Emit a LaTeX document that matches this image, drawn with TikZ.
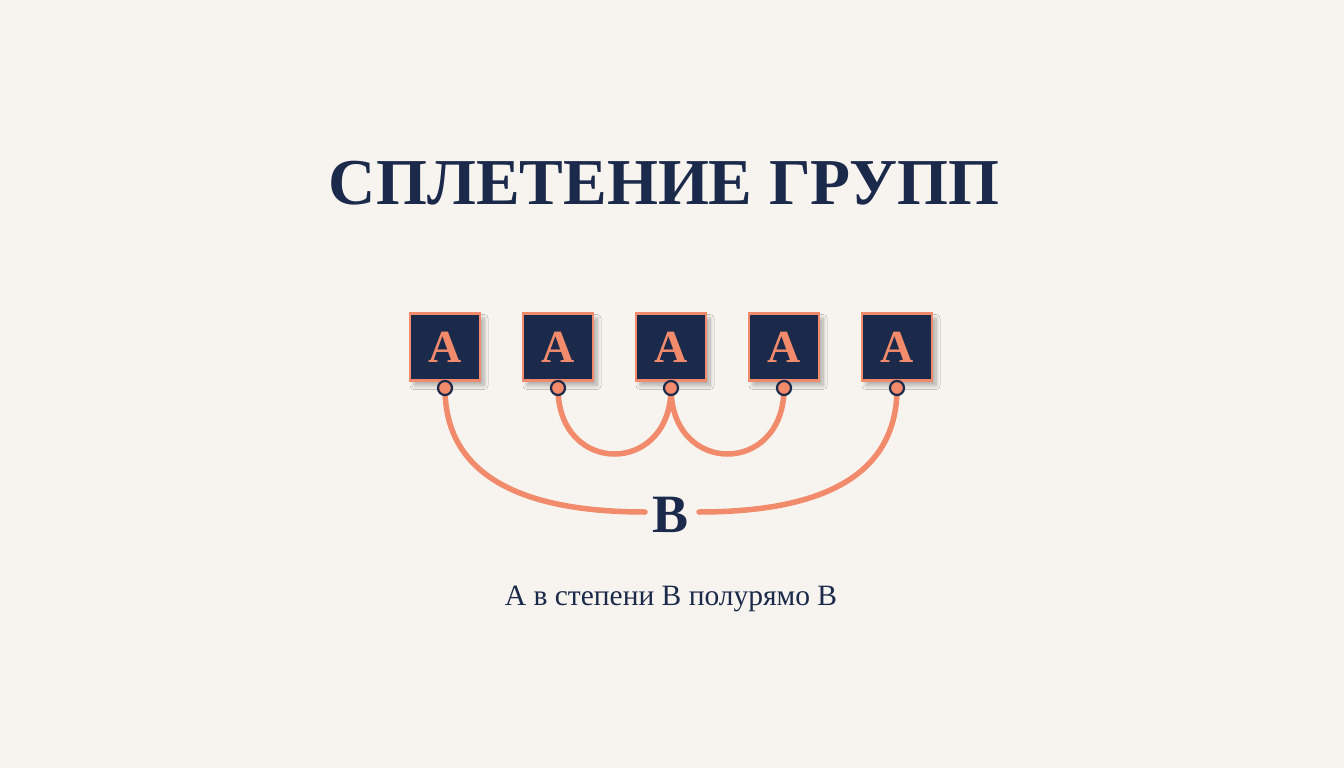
\documentclass[tikz,border=0pt]{standalone}
\usepackage{fontspec}
\setmainfont{Liberation Serif}
\usetikzlibrary{shadows.blur}
\definecolor{bgc}{HTML}{F7F4EF}
\definecolor{navy}{HTML}{1B2A4A}
\definecolor{coral}{HTML}{F28B6B}
\tikzset{
  abox/.style={draw=coral, line width=2.4pt, fill=navy, minimum width=70pt, minimum height=67pt, inner sep=0pt,
    text=coral, font=\fontsize{46}{46}\selectfont\bfseries,
    blur shadow={shadow xshift=4pt, shadow yshift=-5pt, shadow blur steps=12, shadow blur radius=4pt, shadow opacity=30}},
  port/.style={circle, draw=navy, line width=2.2pt, fill=coral, minimum size=14pt, inner sep=0pt},
  link/.style={draw=coral, line width=5.5pt, line cap=round},
}
\begin{document}
\begin{tikzpicture}[x=1pt,y=-1pt]
\fill[bgc] (0,0) rectangle (1344,768);
\useasboundingbox (0,0) rectangle (1344,768);
\node[text=navy, font=\fontsize{65.5}{65}\selectfont\bfseries] (title) at (664,183) {СПЛЕТЕНИЕ ГРУПП};
\foreach \i/\x in {1/445,2/558,3/671,4/784,5/897}{
  \coordinate (p\i) at (\x,388);
}
\node[text=navy, font=\fontsize{54}{54}\selectfont\bfseries, inner sep=4pt] (B) at (671,515) {B};
\draw[link] (p1) .. controls +(0,95) and +(-110,0) .. ([xshift=-26pt,yshift=3pt]B.center);
\draw[link] (p5) .. controls +(0,95) and +(110,0) .. ([xshift=28pt,yshift=3pt]B.center);
\draw[link] (p2) .. controls +(0,88) and +(0,88) .. (p3);
\draw[link] (p3) .. controls +(0,88) and +(0,88) .. (p4);
\foreach \i/\x in {1/445,2/558,3/671,4/784,5/897}{
  \node[abox] (a\i) at (\x,347) {А};
  \node[port] (c\i) at (p\i) {};
}
\node[text=navy, font=\fontsize{29.5}{30}\selectfont] (sub) at (671,599) {А в степени В полурямо В};
\end{tikzpicture}
\end{document}
